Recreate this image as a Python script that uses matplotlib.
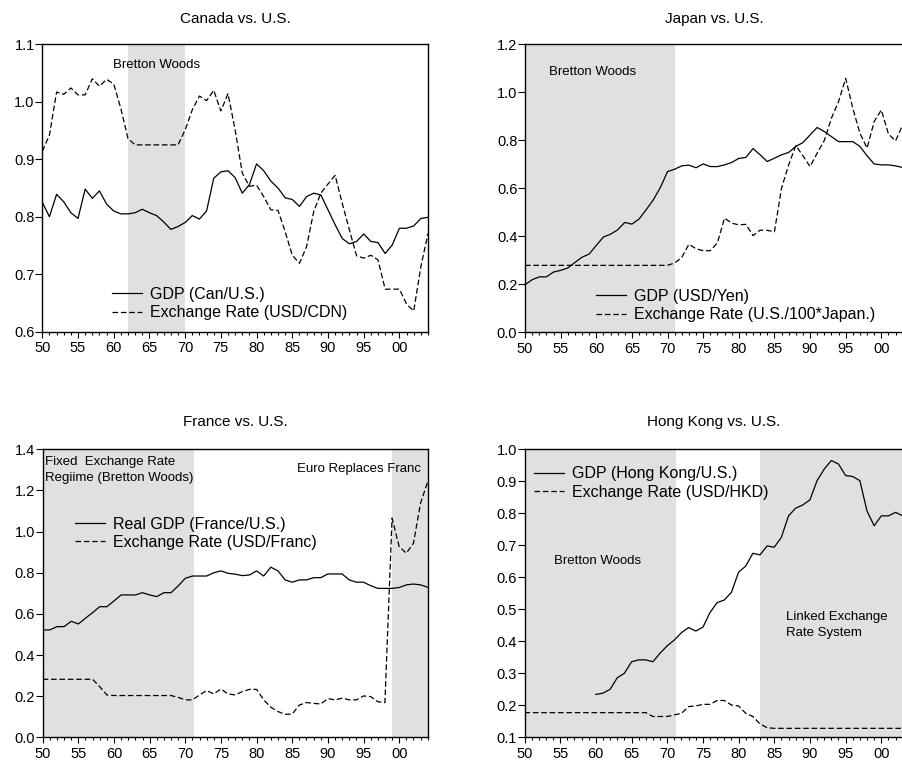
import numpy as np
import matplotlib
matplotlib.use("Agg")
import matplotlib.pyplot as plt
from matplotlib.ticker import MultipleLocator, FuncFormatter, FormatStrFormatter

plt.rcParams['font.family'] = ['Liberation Sans', 'DejaVu Sans']

# ---------------- data ----------------
years_ca = np.arange(1950, 2005)
canada_gdp = [0.825, 0.800, 0.839, 0.826, 0.807, 0.797, 0.848, 0.832, 0.845, 0.822,
              0.810, 0.805, 0.805, 0.807, 0.813, 0.807, 0.802, 0.791, 0.778, 0.783,
              0.790, 0.802, 0.796, 0.810, 0.867, 0.878, 0.880, 0.868, 0.841, 0.856,
              0.892, 0.880, 0.862, 0.850, 0.833, 0.830, 0.818, 0.835, 0.841, 0.838,
              0.812, 0.786, 0.762, 0.753, 0.757, 0.770, 0.757, 0.755, 0.736, 0.751,
              0.780, 0.780, 0.784, 0.797, 0.799]
canada_fx = [0.914, 0.942, 1.017, 1.013, 1.024, 1.012, 1.012, 1.040, 1.027, 1.039,
             1.031, 0.988, 0.936, 0.925, 0.925, 0.925, 0.925, 0.925, 0.925, 0.925,
             0.951, 0.986, 1.010, 1.002, 1.020, 0.984, 1.014, 0.951, 0.876, 0.853,
             0.855, 0.835, 0.812, 0.811, 0.774, 0.733, 0.719, 0.748, 0.809, 0.841,
             0.857, 0.872, 0.823, 0.777, 0.732, 0.728, 0.733, 0.725, 0.674, 0.674,
             0.674, 0.648, 0.636, 0.713, 0.771]

years_jp = np.arange(1950, 2004)
japan_gdp = [0.197, 0.218, 0.230, 0.230, 0.250, 0.257, 0.267, 0.290, 0.312, 0.325,
             0.361, 0.396, 0.408, 0.426, 0.457, 0.450, 0.471, 0.510, 0.551, 0.603,
             0.669, 0.679, 0.693, 0.696, 0.685, 0.701, 0.690, 0.690, 0.697, 0.707,
             0.724, 0.728, 0.765, 0.739, 0.711, 0.725, 0.739, 0.749, 0.774, 0.790,
             0.822, 0.853, 0.836, 0.815, 0.794, 0.794, 0.794, 0.774, 0.735, 0.701,
             0.697, 0.697, 0.693, 0.686]
japan_fx = [0.278, 0.278, 0.278, 0.278, 0.278, 0.278, 0.278, 0.278, 0.278, 0.278,
            0.278, 0.278, 0.278, 0.278, 0.278, 0.278, 0.278, 0.278, 0.278, 0.278,
            0.278, 0.288, 0.311, 0.366, 0.347, 0.339, 0.339, 0.372, 0.475, 0.454,
            0.447, 0.449, 0.402, 0.425, 0.424, 0.418, 0.600, 0.697, 0.778, 0.735,
            0.690, 0.746, 0.799, 0.892, 0.961, 1.058, 0.933, 0.829, 0.767, 0.878,
            0.926, 0.826, 0.797, 0.864]

years_fr = np.arange(1950, 2005)
france_gdp = [0.522, 0.522, 0.538, 0.538, 0.564, 0.551, 0.579, 0.606, 0.635, 0.635,
              0.663, 0.692, 0.692, 0.692, 0.703, 0.692, 0.684, 0.703, 0.703, 0.736,
              0.773, 0.784, 0.784, 0.784, 0.800, 0.809, 0.797, 0.793, 0.786, 0.789,
              0.809, 0.784, 0.827, 0.809, 0.765, 0.754, 0.765, 0.765, 0.776, 0.776,
              0.794, 0.794, 0.794, 0.765, 0.754, 0.754, 0.737, 0.724, 0.724, 0.724,
              0.728, 0.741, 0.745, 0.741, 0.729]
france_fx = [0.282, 0.282, 0.282, 0.282, 0.282, 0.282, 0.282, 0.282, 0.246, 0.206,
             0.203, 0.203, 0.203, 0.203, 0.203, 0.203, 0.203, 0.203, 0.203, 0.194,
             0.182, 0.182, 0.206, 0.227, 0.211, 0.235, 0.211, 0.206, 0.222, 0.233,
             0.233, 0.182, 0.146, 0.125, 0.112, 0.113, 0.157, 0.169, 0.165, 0.162,
             0.188, 0.182, 0.190, 0.182, 0.182, 0.201, 0.198, 0.173, 0.169, 1.065,
             0.927, 0.895, 0.943, 1.138, 1.243]

years_hk_gdp = np.arange(1960, 2004)
hk_gdp = [0.234, 0.238, 0.250, 0.286, 0.300, 0.336, 0.342, 0.342, 0.336, 0.363,
          0.386, 0.404, 0.427, 0.443, 0.432, 0.444, 0.490, 0.521, 0.529, 0.553,
          0.616, 0.635, 0.675, 0.670, 0.698, 0.694, 0.725, 0.792, 0.816, 0.826,
          0.842, 0.902, 0.938, 0.965, 0.954, 0.918, 0.915, 0.902, 0.807, 0.761,
          0.792, 0.792, 0.803, 0.792]
years_hk_fx = np.arange(1950, 2004)
hk_fx = [0.177, 0.177, 0.177, 0.177, 0.177, 0.177, 0.177, 0.177, 0.177, 0.177,
         0.177, 0.177, 0.177, 0.177, 0.177, 0.177, 0.177, 0.177, 0.165, 0.165,
         0.165, 0.170, 0.175, 0.196, 0.198, 0.203, 0.203, 0.215, 0.215, 0.201,
         0.198, 0.175, 0.165, 0.142, 0.130, 0.128, 0.128, 0.128, 0.128, 0.128,
         0.128, 0.128, 0.128, 0.128, 0.128, 0.128, 0.128, 0.128, 0.128, 0.128,
         0.128, 0.128, 0.128, 0.128]

canada_shades = [(1962, 1970)]
japan_shades = [(1950, 1971)]
france_shades = [(1950, 1971.2), (1999, 2004)]
hk_shades = [(1950, 1971.2), (1983, 2003.5)]

# ---------------- figure ----------------
W, H = 902, 765
fig = plt.figure(figsize=(W / 100, H / 100), dpi=100)
fig.patch.set_facecolor('white')

SHADE = '#E0E0E0'
TICK_FS = 10.5
LEG_FS = 11.5
TITLE_FS = 11
ANN_FS = 9.5


def make_ax(left, right, top, bottom):
    return fig.add_axes([left / W, 1 - bottom / H, (right - left) / W, (bottom - top) / H])


def style(ax, xlim, ylim, ystep, title, tpad):
    ax.set_xlim(*xlim)
    ax.set_ylim(*ylim)
    ax.xaxis.set_major_locator(MultipleLocator(5))
    ax.xaxis.set_minor_locator(MultipleLocator(1))
    ax.xaxis.set_major_formatter(FuncFormatter(lambda v, p: f"{int(round(v)) % 100:02d}"))
    ax.yaxis.set_major_locator(MultipleLocator(ystep))
    ax.yaxis.set_major_formatter(FormatStrFormatter('%.1f'))
    ax.tick_params(axis='x', which='major', direction='out', length=4.5, width=0.8,
                   pad=2.5, labelsize=TICK_FS)
    ax.tick_params(axis='x', which='minor', direction='out', length=2.3, width=0.8)
    ax.tick_params(axis='y', which='major', direction='out', length=5, width=0.8,
                   pad=0.5, labelsize=TICK_FS)
    for s in ax.spines.values():
        s.set_linewidth(1.0)
        s.set_color('black')
    ax.set_title(title, fontsize=TITLE_FS, pad=tpad)


def series(ax, x1, y1, x2, y2, lab1, lab2, legx, legy):
    l1, = ax.plot(x1, y1, color='black', lw=0.9, label=lab1)
    l2, = ax.plot(x2, y2, color='black', lw=0.9, ls=(0, (4.5, 2.2)), label=lab2)
    ax.legend(handles=[l1, l2], loc='center left', bbox_to_anchor=(legx, legy),
              frameon=False, fontsize=LEG_FS, handlelength=1.85, handletextpad=0.5,
              labelspacing=0.2, borderpad=0, borderaxespad=0)


# Canada
ax1 = make_ax(42.3, 428, 44.3, 331.7)
for a, b in canada_shades:
    ax1.axvspan(a, b, color=SHADE, lw=0, zorder=0)
series(ax1, years_ca, canada_gdp, years_ca, canada_fx,
       'GDP (Can/U.S.)', 'Exchange Rate (USD/CDN)', 0.181, 0.098)
style(ax1, (1950, 2004), (0.6, 1.1), 0.1, 'Canada vs. U.S.', 15.5)
ax1.text(1966, 1.064, 'Bretton Woods', fontsize=ANN_FS, ha='center', va='center')

# Japan
ax2 = make_ax(525, 903.4, 44.3, 332)
for a, b in japan_shades:
    ax2.axvspan(a, b, color=SHADE, lw=0, zorder=0)
series(ax2, years_jp, japan_gdp, years_jp, japan_fx,
       'GDP (USD/Yen)', 'Exchange Rate (U.S./100*Japan.)', 0.188, 0.092)
style(ax2, (1950, 2003.1), (0.0, 1.2), 0.2, 'Japan vs. U.S.', 15.5)
ax2.text(1953.3, 1.084, 'Bretton Woods', fontsize=ANN_FS, ha='left', va='center')

# France
ax3 = make_ax(42.7, 427.7, 449.3, 737.3)
for a, b in france_shades:
    ax3.axvspan(a, b, color=SHADE, lw=0, zorder=0)
series(ax3, years_fr, france_gdp, years_fr, france_fx,
       'Real GDP (France/U.S.)', 'Exchange Rate (USD/Franc)', 0.084, 0.709)
style(ax3, (1950, 2004), (0.0, 1.4), 0.2, 'France vs. U.S.', 17)
ax3.text(1950.3, 1.338, 'Fixed  Exchange Rate', fontsize=ANN_FS, ha='left', va='center')
ax3.text(1950.3, 1.260, 'Regiime (Bretton Woods)', fontsize=ANN_FS, ha='left', va='center')
ax3.text(2003.1, 1.304, 'Euro Replaces Franc', fontsize=ANN_FS, ha='right', va='center')

# Hong Kong
ax4 = make_ax(524.5, 903.4, 449.3, 737.3)
for a, b in hk_shades:
    ax4.axvspan(a, b, color=SHADE, lw=0, zorder=0)
series(ax4, years_hk_gdp, hk_gdp, years_hk_fx, hk_fx,
       'GDP (Hong Kong/U.S.)', 'Exchange Rate (USD/HKD)', 0.026, 0.883)
style(ax4, (1950, 2003.1), (0.1, 1.0), 0.1, 'Hong Kong vs. U.S.', 17)
ax4.text(1954.1, 0.651, 'Bretton Woods', fontsize=ANN_FS, ha='left', va='center')
ax4.text(1986.6, 0.476, 'Linked Exchange', fontsize=ANN_FS, ha='left', va='center')
ax4.text(1986.6, 0.426, 'Rate System', fontsize=ANN_FS, ha='left', va='center')

fig.savefig('out.png', dpi=100)
